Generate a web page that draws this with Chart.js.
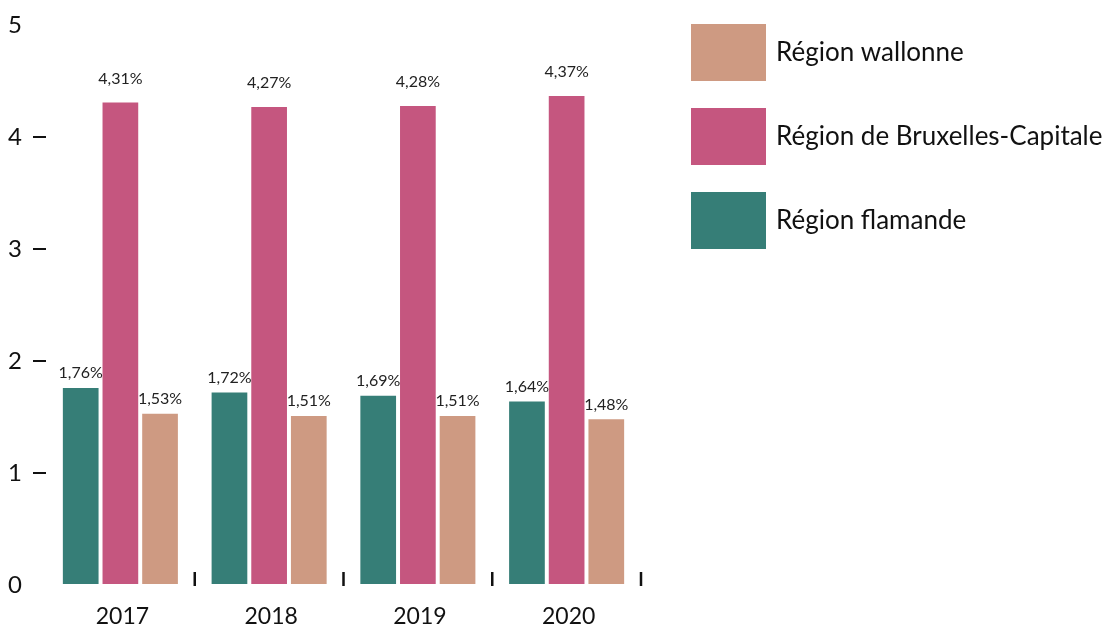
<!DOCTYPE html>
<html>
<head>
<meta charset="utf-8">
<script src="https://cdn.jsdelivr.net/npm/chart.js"></script>
<style>
  html, body { margin: 0; padding: 0; background: #fff; }
  #wrap { width: 1108px; height: 628px; position: relative; }
</style>
</head>
<body>
<div id="wrap"><canvas id="regionsBar"></canvas></div>
<script>
const years = ["2017", "2018", "2019", "2020"];
const flamande = [1.76, 1.72, 1.69, 1.64];
const bruxelles = [4.31, 4.27, 4.28, 4.37];
const wallonne = [1.53, 1.51, 1.51, 1.48];
const seriesNames = ["Région flamande", "Région de Bruxelles-Capitale", "Région wallonne"];
const seriesColors = ["#367E77", "#C5567F", "#CE9A82"];

const FONT = "Lato, 'Noto Sans', sans-serif";

// value labels above each bar
const valueLabels = {
    id: "valueLabels",
    afterDatasetsDraw(chart) {
        const ctx = chart.ctx;
        ctx.save();
        ctx.font = "16px " + FONT;
        ctx.fillStyle = "#222";
        ctx.textAlign = "center";
        ctx.textBaseline = "middle";
        chart.data.datasets.forEach((ds, i) => {
            const gap = i === 1 ? 24 : 15;
            chart.getDatasetMeta(i).data.forEach((bar, j) => {
                const txt = ds.data[j].toFixed(2).replace(".", ",") + "%";
                ctx.fillText(txt, bar.x, bar.y - gap);
            });
        });
        ctx.restore();
    }
};

// short vertical marks at the category boundaries on the baseline
const xMarks = {
    id: "xMarks",
    afterDraw(chart) {
        const ctx = chart.ctx;
        const xs = chart.scales.x;
        const base = chart.chartArea.bottom;
        const w = xs.getPixelForValue(1) - xs.getPixelForValue(0);
        ctx.save();
        ctx.strokeStyle = "#111";
        ctx.lineWidth = 2.5;
        for (let i = 0; i < years.length; i++) {
            const x = xs.getPixelForValue(i) + w / 2;
            ctx.beginPath();
            ctx.moveTo(x, base + 1);
            ctx.lineTo(x, base - 13);
            ctx.stroke();
        }
        ctx.restore();
    }
};

// legend on the right, top to bottom in reverse dataset order
const sideLegend = {
    id: "sideLegend",
    afterDraw(chart) {
        const ctx = chart.ctx;
        ctx.save();
        ctx.font = "26px " + FONT;
        ctx.textBaseline = "middle";
        const order = [2, 1, 0];
        order.forEach((idx, k) => {
            const y = 24 + k * 84;
            ctx.fillStyle = seriesColors[idx];
            ctx.fillRect(691, y, 75, 57);
            ctx.fillStyle = "#111";
            ctx.fillText(seriesNames[idx], 776, y + 29);
        });
        ctx.restore();
    }
};

new Chart(document.getElementById("regionsBar").getContext("2d"), {
    type: "bar",
    data: {
        labels: years,
        datasets: [
            { label: seriesNames[0], data: flamande, backgroundColor: seriesColors[0] },
            { label: seriesNames[1], data: bruxelles, backgroundColor: seriesColors[1] },
            { label: seriesNames[2], data: wallonne, backgroundColor: seriesColors[2] }
        ]
    },
    options: {
        responsive: true,
        maintainAspectRatio: false,
        animation: false,
        layout: { padding: { top: 25, right: 467, left: 0, bottom: 0 } },
        datasets: { bar: { categoryPercentage: 0.8, barPercentage: 0.9 } },
        plugins: {
            legend: { display: false },
            tooltip: { enabled: false }
        },
        scales: {
            x: {
                grid: { display: false },
                border: { display: false },
                ticks: {
                    color: "#111",
                    font: { family: FONT, size: 23 },
                    padding: 10,
                    labelOffset: 2
                },
                afterFit(scale) { scale.height = 43; }
            },
            y: {
                min: 0,
                max: 5,
                border: { display: false },
                grid: {
                    drawOnChartArea: false,
                    drawTicks: true,
                    tickLength: 13,
                    lineWidth: 2,
                    color: (c) => (c.tick && (c.tick.value === 0 || c.tick.value === 5)) ? "rgba(0,0,0,0)" : "#111"
                },
                ticks: {
                    stepSize: 1,
                    color: "#111",
                    font: { family: FONT, size: 24 },
                    padding: 11
                },
                afterFit(scale) { scale.width = 46; }
            }
        }
    },
    plugins: [valueLabels, xMarks, sideLegend]
});
</script>
</body>
</html>
